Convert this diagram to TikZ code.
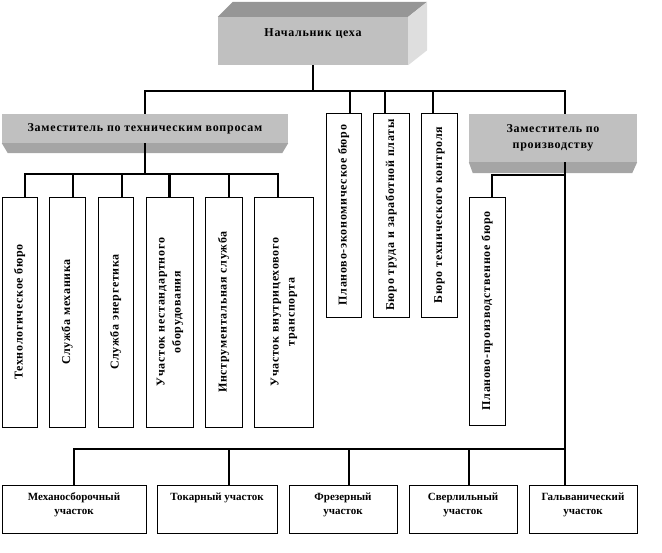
\documentclass[tikz,border=0pt]{standalone}
\usepackage{fontspec}
\setmainfont{Liberation Serif}
\newfontfamily\wideserif{Liberation Serif}[LetterSpace=6]
\usepackage{graphicx}
\usepackage{xcolor}
\definecolor{facegray}{RGB}{192,192,192}
\definecolor{topgray}{RGB}{150,150,150}
\definecolor{sidegray}{RGB}{222,222,222}
\definecolor{bevelgray}{RGB}{165,165,165}
\usepackage{tikz}
\usetikzlibrary{calc,positioning}
\newcommand{\upright}[1]{\rotatebox{90}{\begin{tabular}{@{}c@{}}#1\end{tabular}}}
\newcommand{\shoptext}[1]{\parbox[c][32pt][t]{100pt}{\centering #1}}

\begin{document}
\begin{tikzpicture}[x=1pt,y=-1pt,
    head/.style={fill=facegray,inner sep=0pt,align=center,font=\wideserif\bfseries\fontsize{12}{16}\selectfont},
    unit/.style={draw,fill=white,line width=0.8pt,inner sep=0pt,font=\wideserif\bfseries\fontsize{12}{16}\selectfont},
    shop/.style={draw,fill=white,line width=0.8pt,inner xsep=2pt,inner ysep=8pt,font=\bfseries\fontsize{11}{14}\selectfont},
    link/.style={line width=2.6pt}]
            \useasboundingbox (0,0) rectangle (662,553);
            \node[head,minimum width=190pt,text height=20pt,text depth=28pt] (chief) at (313,41) {Начальник цеха};
            \fill[topgray] (chief.north west) -- ++(15,-15) -- ($(chief.north east)+(19,-15)$) -- (chief.north east) -- cycle;
            \fill[sidegray] (chief.north east) -- ++(19,-15) -- ($(chief.south east)+(19,-15)$) -- (chief.south east) -- cycle;
            \node[head,minimum width=286pt,minimum height=29pt] (dtech) at (145,128.5) {Заместитель по техническим вопросам};
            \node[head,minimum width=168pt,minimum height=48pt] (dprod) at (553,138) {Заместитель по\\производству};
            \fill[bevelgray] (dtech.south west) -- (dtech.south east) -- ++(-6,10) -- ($(dtech.south west)+(6,10)$) -- cycle;
            \fill[bevelgray] (dprod.south west) -- (dprod.south east) -- ++(-5,11) -- ($(dprod.south west)+(4,11)$) -- cycle;
            \node[unit,minimum width=35pt,minimum height=204pt] (pe) at (343.5,215) {\upright{Планово-экономическое бюро}};
            \node[unit,minimum width=36pt,minimum height=204pt] (bt) at (391,215) {\upright{Бюро труда и заработной платы}};
            \node[unit,minimum width=36pt,minimum height=204pt] (bk) at (439,215) {\upright{Бюро технического контроля}};
            \node[unit,minimum width=35pt,minimum height=230pt] (t1) at (19.5,312) {\upright{Технологическое бюро}};
            \node[unit,minimum width=36pt,minimum height=230pt] (t2) at (67,312) {\upright{Служба механика}};
            \node[unit,minimum width=35pt,minimum height=230pt] (t3) at (115.5,312) {\upright{Служба энергетика}};
            \node[unit,minimum width=47pt,minimum height=230pt] (t4) at (169.5,312) {\upright{Участок нестандартного\\оборудования}};
            \node[unit,minimum width=37pt,minimum height=230pt] (t5) at (223.5,312) {\upright{Инструментальная служба}};
            \node[unit,minimum width=59pt,minimum height=230pt] (t6) at (283.5,312) {\upright{Участок внутрицехового\\транспорта}};
            \node[unit,minimum width=36pt,minimum height=228pt] (pp) at (487,311) {\upright{Планово-производственное бюро}};
            \node[shop,minimum width=144pt] (s1) at (74,509) {\shoptext{Механосборочный\\участок}};
            \node[shop,minimum width=120pt] (s2) at (217,509) {\shoptext{Токарный участок}};
            \node[shop,minimum width=108pt] (s3) at (343,509) {\shoptext{Фрезерный\\участок}};
            \node[shop,minimum width=108pt] (s4) at (463,509) {\shoptext{Сверлильный\\участок}};
            \node[shop,minimum width=108pt] (s5) at (583,509) {\shoptext{Гальванический\\участок}};
            \coordinate (topbus) at (313,91);
            \coordinate (techbus) at (145,174);
            \coordinate (prodbus) at (565,175);
            \coordinate (shopbus) at (565,449);
            \draw[link] (chief.south) -- (topbus);
            \draw[link] (dtech.north) |- (topbus) -| ([xshift=12pt]dprod.north);
            \foreach \n/\dx in {pe/6.5,bt/-6,bk/-6}
                \draw[link] ([xshift=\dx pt]\n.north) -- ([xshift=\dx pt]\n.north |- topbus);
            \draw[link] (dtech.south) -- (techbus);
            \draw[link] ([xshift=5.5pt]t1.north) |- ([xshift=-5.5pt]t6.north |- techbus) -- ([xshift=-5.5pt]t6.north);
            \foreach \n/\dx in {t2/6,t3/6.5,t4/0,t5/5.5}
                \draw[link] ([xshift=\dx pt]\n.north) -- ([xshift=\dx pt]\n.north |- techbus);
            \draw[link] ([xshift=5pt]pp.north) |- (prodbus);
            \draw[link] ([xshift=12pt]dprod.south) -- ([xshift=-18pt]s5.north);
            \draw[link] (s1.north) |- (shopbus);
            \foreach \n/\dx in {s2/12,s3/6,s4/6}
                \draw[link] ([xshift=\dx pt]\n.north) -- ([xshift=\dx pt]\n.north |- shopbus);
\end{tikzpicture}
\end{document}
